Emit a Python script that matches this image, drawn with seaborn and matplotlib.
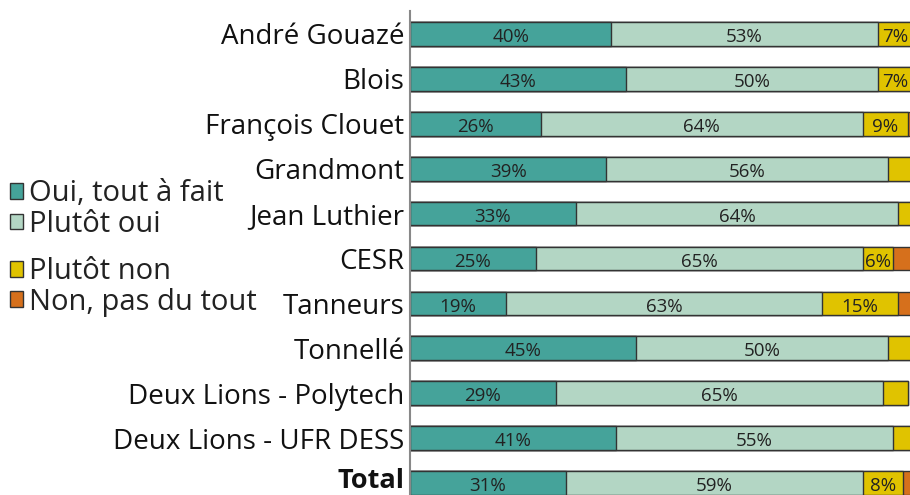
import numpy as np
import pandas as pd
import matplotlib
matplotlib.use("Agg")
import matplotlib.pyplot as plt
import matplotlib.transforms as mtransforms
import seaborn as sns
from matplotlib.patches import Patch

sites = ["André Gouazé", "Blois", "François Clouet", "Grandmont", "Jean Luthier",
         "CESR", "Tanneurs", "Tonnellé", "Deux Lions - Polytech",
         "Deux Lions - UFR DESS", "Total"]
oui_tout = [40, 43, 26, 39, 33, 25, 19, 45, 29, 41, 31]
plutot_oui = [53, 50, 64, 56, 64, 65, 63, 50, 65, 55, 59]
plutot_non = [7, 7, 9, 5, 3, 6, 15, 5, 5, 4, 8]
non_pas = [0, 0, 2, 0, 0, 4, 3, 0, 0, 0, 2]

series_names = ["Oui, tout à fait", "Plutôt oui", "Plutôt non", "Non, pas du tout"]
series_vals = [oui_tout, plutot_oui, plutot_non, non_pas]
colors = ["#45A39A", "#B3D6C4", "#E0C300", "#D6701C"]

sns.set_theme(style="white")
plt.rcParams["font.family"] = ["Open Sans", "DejaVu Sans"]

fig = plt.figure(figsize=(9.10, 4.95), dpi=100)
ax = fig.add_axes([410 / 910, 1 - 505.5 / 495, 503 / 910, 494 / 495])

df = pd.DataFrame({"site": sites})
cum = np.zeros(len(sites))
cums = []
for vals in series_vals:
    cum = cum + np.array(vals, dtype=float)
    cums.append(cum.copy())

for i in reversed(range(len(series_vals))):
    df["v"] = cums[i]
    sns.barplot(data=df, x="v", y="site", orient="h", color=colors[i],
                saturation=1, width=0.53, edgecolor="#333333", linewidth=1.0, ax=ax)

for i, vals in enumerate(series_vals):
    start = cums[i] - np.array(vals)
    for j, v in enumerate(vals):
        if v >= 6:
            ax.text(start[j] + v / 2, j + 0.07, f"{v}%", ha="center", va="center",
                    fontsize=13.5, color="#222222")

ax.set_xlim(0, 100)
ax.set_ylim(10.5, -0.5)
ax.set_xlabel("")
ax.set_ylabel("")
ax.set_xticks([])
ax.tick_params(axis="y", length=0, pad=4, labelsize=20, labelcolor="#111111")
for lbl in ax.get_yticklabels():
    if lbl.get_text() == "Total":
        lbl.set_fontweight("bold")
        lbl.set_fontsize(19.5)
        lbl.set_transform(lbl.get_transform() +
                          mtransforms.ScaledTranslation(0, 5 / 100, fig.dpi_scale_trans))
for s in ["top", "right", "bottom"]:
    ax.spines[s].set_visible(False)
ax.spines["left"].set_color("#888888")
ax.spines["left"].set_linewidth(1.5)

handles = [Patch(facecolor=c, edgecolor="#333333", linewidth=1.0) for c in colors]
leg_kw = dict(loc="center left", frameon=False, fontsize=21,
              handlelength=0.45, handleheight=0.45, handletextpad=0.2,
              labelspacing=0.05, borderaxespad=0, borderpad=0.0,
              labelcolor="#222222")
leg1 = fig.legend(handles[:2], series_names[:2],
                  bbox_to_anchor=(10 / 910, 1 - 209 / 495), **leg_kw)
leg2 = fig.legend(handles[2:], series_names[2:],
                  bbox_to_anchor=(10 / 910, 1 - 287 / 495), **leg_kw)

fig.savefig("out.png", dpi=100)
